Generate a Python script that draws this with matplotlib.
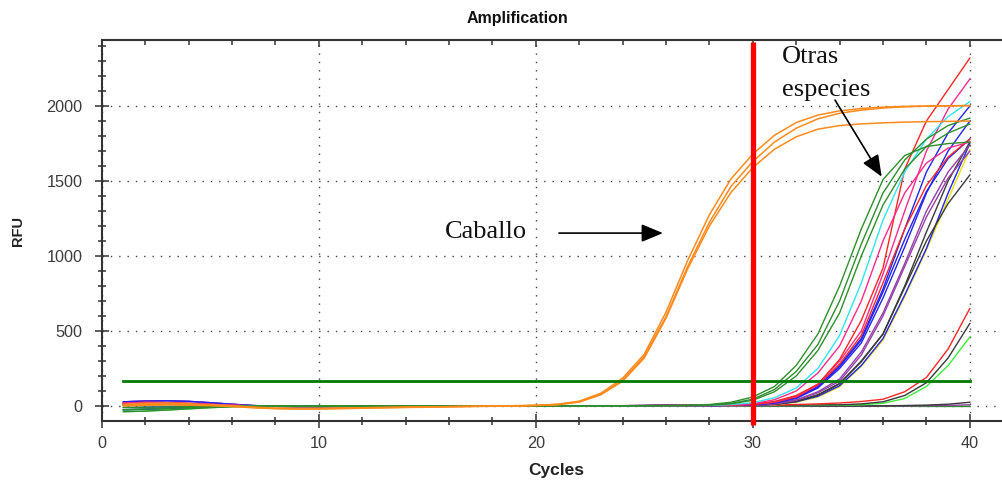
import matplotlib
matplotlib.use("Agg")
import matplotlib.pyplot as plt
from matplotlib.ticker import MultipleLocator

cycles = list(range(1, 41))

# Caballo (horse) curves
caballo_1 = [12,18,20,15,8,2,-8,-14,-16,-16,-14,-12,-10,-8,-6,-5,-3,-2,0,4,12,32,85,185,345,625,970,1275,1515,1680,1805,1890,1940,1968,1984,1993,1998,2000,2002,2003]
caballo_2 = [5,10,12,10,5,0,-10,-16,-18,-18,-15,-12,-10,-8,-6,-4,-2,0,2,5,10,28,78,172,330,595,930,1225,1465,1630,1760,1852,1915,1952,1973,1987,1995,2000,2002,2003]
caballo_3 = [0,5,8,6,2,-4,-12,-18,-20,-20,-18,-15,-12,-10,-8,-5,-3,-1,0,3,8,26,75,165,320,585,915,1200,1425,1590,1712,1795,1846,1870,1881,1888,1893,1896,1898,1900]

# Other species
green_1  = [-38,-34,-27,-19,-11,-5,-1,0,0,1,1,1,0,0,0,1,1,1,0,0,0,1,1,1,2,3,5,10,25,60,130,270,480,800,1180,1510,1670,1730,1750,1760]
green_2  = [-25,-21,-16,-11,-6,-2,0,1,1,1,0,0,0,0,1,1,1,0,0,0,1,1,1,2,2,3,4,7,18,45,110,230,410,700,1080,1420,1640,1780,1870,1920]
green_3  = [-10,-8,-6,-4,-2,0,0,-1,-2,-3,-3,-3,-2,-2,-1,-1,0,0,0,0,0,0,1,1,1,2,2,5,15,38,95,200,370,620,1000,1340,1580,1730,1820,1880]
cyan_1   = [6,9,10,8,5,2,0,-2,-3,-3,-3,-2,-2,-1,-1,0,0,0,0,0,0,1,1,1,2,2,3,4,10,22,55,120,250,470,820,1240,1560,1780,1930,2030]
pink_1   = [20,24,22,17,11,5,1,-1,-2,-2,-2,-1,-1,0,0,0,0,1,1,1,1,1,2,2,2,3,4,5,8,15,42,100,220,400,700,1100,1420,1620,1720,1760]
red_1    = [6,9,10,8,5,2,0,-2,-3,-3,-3,-2,-2,-1,-1,0,0,0,0,0,0,1,1,1,2,2,3,4,7,12,30,70,145,310,570,920,1580,1900,2110,2320]
pink_2   = [15,20,18,14,9,4,0,-2,-3,-3,-2,-2,-1,0,0,1,1,0,0,0,1,1,2,2,3,4,6,7,8,12,28,65,145,300,500,880,1300,1700,1980,2180]
red_2    = [20,24,22,17,11,5,1,-1,-2,-2,-2,-1,-1,0,0,0,0,1,1,1,1,1,2,2,2,3,4,4,6,10,25,60,140,280,470,820,1180,1470,1660,1780]
blue_1   = [28,33,35,31,22,12,3,-2,-4,-4,-3,-2,-1,0,1,1,0,0,-1,0,1,1,0,0,1,2,3,3,5,9,22,55,130,270,450,780,1180,1560,1820,2000]
blue_2   = [15,20,18,14,9,4,0,-2,-3,-3,-2,-2,-1,0,0,1,1,0,0,0,1,1,2,2,3,4,6,6,7,9,22,55,128,262,440,760,1110,1430,1650,1780]
blue_3   = [-25,-21,-16,-11,-6,-2,0,1,1,1,0,0,0,0,1,1,1,0,0,0,1,1,1,2,2,3,4,4,5,8,20,50,120,250,420,720,1060,1420,1700,1900]
purple_1 = [28,33,35,31,22,12,3,-2,-4,-4,-3,-2,-1,0,1,1,0,0,-1,0,1,1,0,0,1,2,3,3,4,6,15,40,95,180,360,620,950,1300,1560,1740]
purple_2 = [20,24,22,17,11,5,1,-1,-2,-2,-2,-1,-1,0,0,0,0,1,1,1,1,1,2,2,2,3,4,4,4,6,14,38,88,165,340,600,930,1260,1520,1700]
black_1  = [15,20,18,14,9,4,0,-2,-3,-3,-2,-2,-1,0,0,1,1,0,0,0,1,1,2,2,3,4,6,6,6,7,12,32,75,150,300,480,790,1100,1350,1540]
black_2  = [6,9,10,8,5,2,0,-2,-3,-3,-3,-2,-2,-1,-1,0,0,0,0,0,0,1,1,1,2,2,3,3,4,6,12,30,72,148,295,480,800,1160,1500,1760]
blue_4   = [-10,-8,-6,-4,-2,0,0,-1,-2,-3,-3,-3,-2,-2,-1,-1,0,0,0,0,0,0,1,1,1,2,2,2,3,5,10,28,65,135,270,450,740,1050,1420,1750]
yellow_1 = [6,9,10,8,5,2,0,-2,-3,-3,-3,-2,-2,-1,-1,0,0,0,0,0,0,1,1,1,2,2,3,3,3,5,8,25,60,128,265,440,730,1040,1380,1710]
red_3    = [20,24,22,17,11,5,1,-1,-2,-2,-2,-1,-1,0,0,0,0,1,1,1,1,1,2,2,2,3,4,4,4,4,6,10,14,20,30,45,95,190,380,650]
black_3  = [15,20,18,14,9,4,0,-2,-3,-3,-2,-2,-1,0,0,1,1,0,0,0,1,1,2,2,3,4,6,5,5,5,5,6,7,8,14,28,70,155,320,550]
lime_1   = [-25,-21,-16,-11,-6,-2,0,1,1,1,0,0,0,0,1,1,1,0,0,0,1,1,1,2,2,3,4,3,3,3,3,3,4,5,8,18,50,130,270,460]
purple_f = [28,33,35,31,22,12,3,-2,-4,-4,-3,-2,-1,0,1,1,0,0,-1,0,1,1,0,0,1,2,3,2,1,0,0,0,0,0,0,1,1,2,4,8]
black_f  = [15,20,18,14,9,4,0,-2,-3,-3,-2,-2,-1,0,0,1,1,0,0,0,1,1,2,2,3,4,6,4,3,2,1,1,0,0,0,1,3,6,12,25]
lime_f   = [-38,-34,-27,-19,-11,-5,-1,0,0,1,1,1,0,0,0,1,1,1,0,0,0,1,1,1,2,3,5,4,3,2,1,0,0,-1,-1,-1,-2,-2,-2,-2]
green_f  = [-25,-21,-16,-11,-6,-2,0,1,1,1,0,0,0,0,1,1,1,0,0,0,1,1,1,2,2,3,4,3,2,1,0,0,-1,-1,-2,-2,-2,-3,-3,-3]

threshold = 165
cutoff_cycle = 30

x_ticks = [0, 10, 20, 30, 40]
y_ticks = [0, 500, 1000, 1500, 2000]

C_ORANGE = "#FF8A1C"
C_GREEN = "#2E8E2E"
C_CYAN = "#2EE6F0"
C_PINK = "#FF2A8C"
C_RED = "#FF2626"
C_BLUE = "#2323F5"
C_PURPLE = "#9440A8"
C_BLACK = "#3A3A3A"
C_YELLOW = "#EAE000"
C_LIME = "#3CEB3C"

others = [
    (lime_f, C_LIME), (green_f, C_GREEN), (purple_f, C_PURPLE), (black_f, C_BLACK),
    (lime_1, C_LIME), (black_3, C_BLACK), (red_3, C_RED),
    (yellow_1, C_YELLOW), (blue_4, C_BLUE), (black_2, C_BLACK), (black_1, C_BLACK),
    (purple_2, C_PURPLE), (purple_1, C_PURPLE), (blue_3, C_BLUE), (blue_2, C_BLUE),
    (blue_1, C_BLUE), (red_2, C_RED), (pink_2, C_PINK), (red_1, C_RED),
    (pink_1, C_PINK), (cyan_1, C_CYAN), (green_3, C_GREEN), (green_2, C_GREEN), (green_1, C_GREEN),
]

plt.rcParams['font.family'] = ['Liberation Sans', 'DejaVu Sans']

fig = plt.figure(figsize=(10.03, 4.83), dpi=100)
ax = fig.add_axes([0.1014, 0.129, 0.8986, 0.788])

for vals, col in others:
    ax.plot(cycles, vals, color=col, lw=1.0, zorder=3)
for vals in (caballo_3, caballo_2, caballo_1):
    ax.plot(cycles, vals, color=C_ORANGE, lw=1.1, zorder=4)

ax.plot([cycles[0], cycles[-1]], [threshold, threshold], color="#007A00", lw=2.0, zorder=5)
ax.plot([cutoff_cycle, cutoff_cycle], [-128, 2430], color="#FF0000", lw=3.8,
        zorder=6, clip_on=False, solid_capstyle='butt')

ax.set_xlim(0, 41.53)
ax.set_ylim(-98, 2440)
ax.set_xticks(x_ticks)
ax.set_yticks(y_ticks)
ax.xaxis.set_minor_locator(MultipleLocator(2))
ax.yaxis.set_minor_locator(MultipleLocator(100))

ax.spines['right'].set_visible(False)
for s in ('left', 'bottom', 'top'):
    ax.spines[s].set_color('#333333')
    ax.spines[s].set_linewidth(1.5)

ax.tick_params(axis='both', which='major', direction='inout', length=10, width=1.1,
               color='#333333', labelsize=11.7, labelcolor='#3c3c3c')
ax.tick_params(axis='both', which='minor', direction='inout', length=6, width=1.1, color='#333333')
ax.tick_params(axis='y', which='major', pad=8.8)
ax.tick_params(axis='x', which='major', pad=6)

top = ax.secondary_xaxis('top')
top.set_xticks(x_ticks)
top.xaxis.set_minor_locator(MultipleLocator(2))
top.tick_params(which='major', direction='in', length=5, width=1.1, color='#333333', labeltop=False)
top.tick_params(which='minor', direction='in', length=3.8, width=1.1, color='#333333')
top.spines['top'].set_visible(False)

ax.grid(True, which='major', color='#444444', linestyle=(0, (1, 5)), lw=1.0, zorder=1)
ax.set_axisbelow(True)

fig.text(517/1003, 1 - 18/483, "Amplification", ha='center', va='center',
         fontsize=11.5, fontweight='bold', color='#111111')
fig.text(556/1003, 1 - 470/483, "Cycles", ha='center', va='center',
         fontsize=12.5, fontweight='bold', color='#222222')
fig.text(18/1003, 1 - 231/483, "RFU", ha='center', va='center', rotation=90,
         fontsize=10.5, fontweight='bold', color='#222222')

serif = ['Liberation Serif', 'DejaVu Serif']
ax.text(15.82, 1160, "Caballo", family=serif, fontsize=19, ha='left', va='center', color='#111111', zorder=7)
ax.annotate("", xy=(25.86, 1153), xytext=(21.07, 1153),
            arrowprops=dict(arrowstyle='-|>,head_length=0.6,head_width=0.25', color='black',
                            lw=1.2, mutation_scale=22, shrinkA=0, shrinkB=0), zorder=7)
ax.text(31.35, 2330, "Otras", family=serif, fontsize=19, ha='left', va='center', color='#111111', zorder=7)
ax.text(31.35, 2110, "especies", family=serif, fontsize=19, ha='left', va='center', color='#111111', zorder=7)
ax.annotate("", xy=(35.94, 1529), xytext=(33.79, 2040),
            arrowprops=dict(arrowstyle='-|>,head_length=0.6,head_width=0.25', color='black',
                            lw=1.2, mutation_scale=22, shrinkA=0, shrinkB=0), zorder=7)

fig.savefig("out.png", dpi=100)
